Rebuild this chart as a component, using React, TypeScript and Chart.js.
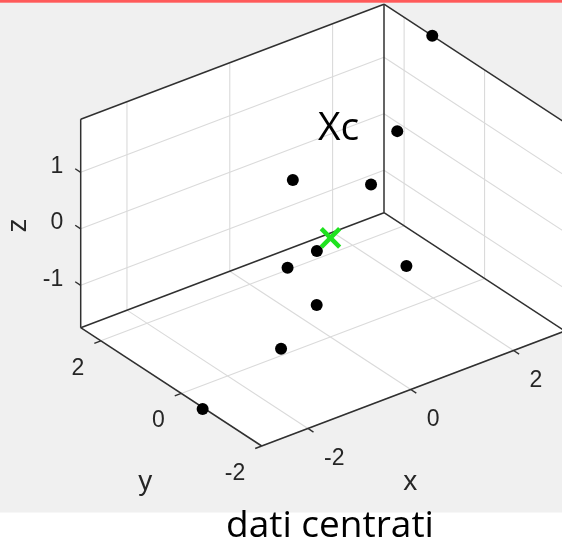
import { useEffect, useRef } from 'react';
import { Chart, registerables } from 'chart.js';

Chart.register(...registerables);

const W = 562;
const H = 539;

// Centred observations (x, y, z)
const xs = [3.0, 1.56, 0.1, 0.87, -0.09, -0.66, 0.94, -0.79, -1.96, -2.93];
const ys = [1.3, 0.33, 1.06, 0.1, 0.22, 0.22, -0.69, -0.67, -1.28, -0.57];
const zs = [1.94, 1.2, 0.5, 0.6, -0.3, -0.4, -0.5, -0.6, -0.69, -1.75];

// Axis limits and ticks
const xLim = [-2.9, 3.0];
const yLim = [-2.0, 2.5];
const zLim = [-1.75, 1.94];
const xTicks = [-2, 0, 2];
const yTicks = [-2, 0, 2];
const zTicks = [-1, 0, 1];
const xTickLabels = ['-2', '0', '2'];
const yTickLabels = ['-2', '0', '2'];
const zTickLabels = ['-1', '0', '1'];

const centroidLabel = 'Xc';
const caption = 'dati centrati';

// Oblique view of the axes box, in canvas units:
// corner (xmin, ymin, zmin) and the on-screen span of each full axis range.
const VIEW = {
  corner: [261.7, 446],
  ex: [303.3, -115],
  ey: [-181, -118.3],
  ez: [0, -208.5],
};

type P = { x: number; y: number };

function project(x: number, y: number, z: number): P {
  const u = (x - xLim[0]) / (xLim[1] - xLim[0]);
  const v = (y - yLim[0]) / (yLim[1] - yLim[0]);
  const w = (z - zLim[0]) / (zLim[1] - zLim[0]);
  return {
    x: VIEW.corner[0] + u * VIEW.ex[0] + v * VIEW.ey[0] + w * VIEW.ez[0],
    y: VIEW.corner[1] + u * VIEW.ex[1] + v * VIEW.ey[1] + w * VIEW.ez[1],
  };
}

const mean = (a: number[]) => a.reduce((s, v) => s + v, 0) / a.length;

function corner(ix: number, iy: number, iz: number): P {
  return project(xLim[ix], yLim[iy], zLim[iz]);
}

const EDGE = '#303030';
const GRID = '#dadada';
const TEXT = '#262626';

function segment(a: P, b: P, color: string, width: number, order: number) {
  return {
    data: [a, b],
    showLine: true,
    borderColor: color,
    borderWidth: width,
    pointRadius: 0,
    pointHoverRadius: 0,
    order,
  };
}

function buildDatasets() {
  const sets: any[] = [];

  // grid on the two back walls and the floor
  for (const t of xTicks) {
    sets.push(segment(project(t, yLim[1], zLim[0]), project(t, yLim[1], zLim[1]), GRID, 1.1, 4));
    sets.push(segment(project(t, yLim[0], zLim[0]), project(t, yLim[1], zLim[0]), GRID, 1.1, 4));
  }
  for (const t of yTicks) {
    sets.push(segment(project(xLim[1], t, zLim[0]), project(xLim[1], t, zLim[1]), GRID, 1.1, 4));
    sets.push(segment(project(xLim[0], t, zLim[0]), project(xLim[1], t, zLim[0]), GRID, 1.1, 4));
  }
  for (const t of zTicks) {
    sets.push(segment(project(xLim[0], yLim[1], t), project(xLim[1], yLim[1], t), GRID, 1.1, 4));
    sets.push(segment(project(xLim[1], yLim[1], t), project(xLim[1], yLim[0], t), GRID, 1.1, 4));
  }

  // box edges
  const edges: [number[], number[]][] = [
    [[0, 1, 0], [0, 1, 1]],
    [[0, 1, 1], [1, 1, 1]],
    [[1, 1, 0], [1, 1, 1]],
    [[1, 1, 1], [1, 0, 1]],
    [[0, 1, 0], [1, 1, 0]],
    [[1, 1, 0], [1, 0, 0]],
    [[0, 0, 0], [0, 1, 0]],
    [[0, 0, 0], [1, 0, 0]],
    [[1, 0, 0], [1, 0, 1]],
  ];
  for (const [a, b] of edges) {
    sets.push(segment(corner(a[0], a[1], a[2]), corner(b[0], b[1], b[2]), EDGE, 1.5, 3));
  }

  // observations
  sets.push({
    data: xs.map((x, i) => project(x, ys[i], zs[i])),
    pointRadius: 6,
    pointHoverRadius: 6,
    pointBackgroundColor: '#000000',
    pointBorderWidth: 0,
    borderColor: '#000000',
    order: 1,
  });

  // centroid
  sets.push({
    data: [project(mean(xs), mean(ys), mean(zs))],
    pointStyle: 'crossRot',
    pointRadius: 13,
    pointHoverRadius: 13,
    pointBorderColor: '#1fe21f',
    borderColor: '#1fe21f',
    pointBorderWidth: 4.5,
    order: 0,
  });

  return sets;
}

const decor = {
  id: 'decor',
  beforeDraw(chart: any) {
    const { ctx, scales } = chart;
    const px = (p: P) => [scales.x.getPixelForValue(p.x), scales.y.getPixelForValue(p.y)];
    ctx.save();
    ctx.fillStyle = '#ffffff';
    ctx.fillRect(0, 0, W, H);
    ctx.fillStyle = '#f0f0f0';
    ctx.fillRect(0, 0, W, 512.5);
    ctx.fillStyle = '#ff5a5a';
    ctx.fillRect(0, 0, W, 2.7);

    // white back walls and floor
    const outline = [
      corner(0, 1, 1), corner(1, 1, 1), corner(1, 0, 1),
      corner(1, 0, 0), corner(0, 0, 0), corner(0, 1, 0),
    ].map(px);
    ctx.beginPath();
    outline.forEach(([x, y], i) => (i ? ctx.lineTo(x, y) : ctx.moveTo(x, y)));
    ctx.closePath();
    ctx.fillStyle = '#ffffff';
    ctx.fill();
    ctx.restore();
  },
  afterDatasetsDraw(chart: any) {
    const { ctx, scales } = chart;
    const px = (p: P) => [scales.x.getPixelForValue(p.x), scales.y.getPixelForValue(p.y)];
    ctx.save();
    ctx.strokeStyle = EDGE;
    ctx.lineWidth = 1.4;
    const tick = (p: P, dx: number, dy: number) => {
      const [x, y] = px(p);
      ctx.beginPath();
      ctx.moveTo(x, y);
      ctx.lineTo(x + dx, y + dy);
      ctx.stroke();
    };

    ctx.fillStyle = TEXT;
    ctx.font = '23px "Liberation Sans", Arial, sans-serif';
    ctx.textBaseline = 'middle';

    // z ticks on the left vertical edge
    ctx.textAlign = 'right';
    zTicks.forEach((t, i) => {
      const p = project(xLim[0], yLim[1], t);
      tick(p, -5.5, -3.6);
      const [x, y] = px(p);
      ctx.fillText(zTickLabels[i], x - 17.5, y - 6);
    });

    // y ticks along the front-left floor edge
    yTicks.forEach((t, i) => {
      const p = project(xLim[0], t, zLim[0]);
      tick(p, -6.5, 2.5);
      const [x, y] = px(p);
      ctx.fillText(yTickLabels[i], x - 16.5, y + 27.5);
    });

    // x ticks along the front-right floor edge
    ctx.textAlign = 'left';
    xTicks.forEach((t, i) => {
      const p = project(t, yLim[0], zLim[0]);
      tick(p, 5.5, 3.6);
      const [x, y] = px(p);
      ctx.fillText(xTickLabels[i], x + 16, y + 30);
    });

    // axis labels
    ctx.font = '28px "Liberation Sans", Arial, sans-serif';
    ctx.textAlign = 'center';
    {
      const [x, y] = px(project((xLim[0] + xLim[1]) / 2, yLim[0], zLim[0]));
      ctx.fillText('x', x - 3, y + 94);
    }
    {
      const [x, y] = px(project(xLim[0], (yLim[0] + yLim[1]) / 2, zLim[0]));
      ctx.fillText('y', x - 26, y + 95);
    }
    {
      const [x, y] = px(project(xLim[0], yLim[1], (zLim[0] + zLim[1]) / 2));
      ctx.save();
      ctx.translate(x - 62, y + 2);
      ctx.rotate(-Math.PI / 2);
      ctx.fillText('z', 0, 0);
      ctx.restore();
    }

    // annotations
    ctx.fillStyle = '#000000';
    ctx.font = '39px "Open Sans", sans-serif';
    ctx.textAlign = 'left';
    ctx.textBaseline = 'alphabetic';
    ctx.fillText(centroidLabel, 318, 140);
    ctx.font = '37px "Open Sans", sans-serif';
    ctx.fillText(caption, 226, 537);
    ctx.restore();
  },
};

export default function App() {
  const ref = useRef<HTMLCanvasElement>(null);

  useEffect(() => {
    if (!ref.current) return;
    const chart = new Chart(ref.current, {
      type: 'scatter',
      data: { datasets: buildDatasets() },
      options: {
        animation: false,
        responsive: false,
        devicePixelRatio: 1,
        layout: { padding: 0, autoPadding: false },
        events: [],
        plugins: { legend: { display: false }, tooltip: { enabled: false } },
        scales: {
          x: { type: 'linear', min: 0, max: W, display: false },
          y: { type: 'linear', min: 0, max: H, reverse: true, display: false },
        },
      },
      plugins: [decor],
    });
    return () => chart.destroy();
  }, []);

  return (
    <div style={{ position: 'fixed', left: 0, top: 0, width: W, height: H }}>
      <canvas ref={ref} width={W} height={H} />
    </div>
  );
}
